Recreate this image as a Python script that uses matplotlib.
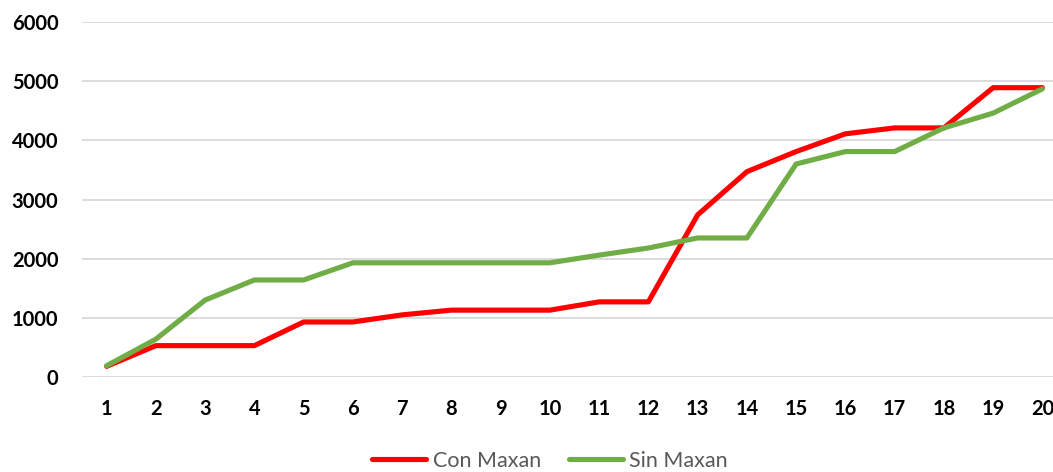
import matplotlib
matplotlib.use('Agg')
import matplotlib.pyplot as plt

# data
x = list(range(1, 21))
con_maxan = [180, 530, 530, 530, 930, 930, 1050, 1130, 1130, 1130,
             1270, 1270, 2740, 3470, 3810, 4110, 4210, 4210, 4890, 4890]
sin_maxan = [190, 640, 1300, 1640, 1640, 1930, 1930, 1930, 1930, 1930,
             2060, 2180, 2350, 2350, 3600, 3810, 3810, 4210, 4460, 4870]
y_ticks = [0, 1000, 2000, 3000, 4000, 5000, 6000]

plt.rcParams['font.family'] = ['Lato', 'DejaVu Sans']

fig = plt.figure(figsize=(10.53, 4.72), dpi=100)
# axes runs past the right edge, like the cropped original
ax = fig.add_axes([82 / 1053, 1 - 377 / 472, 985 / 1053, 355 / 472])

ax.plot(x, con_maxan, color='#FF0000', lw=3.7, label='Con Maxan', solid_capstyle='round')
ax.plot(x, sin_maxan, color='#70AD47', lw=3.7, label='Sin Maxan', solid_capstyle='round')

ax.set_xlim(0.5, 20.5)
ax.set_ylim(0, 6000)
ax.set_xticks(x)
ax.set_yticks(y_ticks)
ax.grid(axis='y', color='#D9D9D9', lw=1.3)
ax.set_axisbelow(True)
for s in ax.spines.values():
    s.set_visible(False)
ax.tick_params(axis='both', length=0, labelsize=14.5, colors='black')
ax.tick_params(axis='x', pad=16)
ax.tick_params(axis='y', pad=17)
for lbl in ax.get_xticklabels() + ax.get_yticklabels():
    lbl.set_fontweight('bold')

fig.legend(loc='center', bbox_to_anchor=(550 / 1053, 1 - 461 / 472), ncol=2,
           frameon=False, fontsize=15.5, labelcolor='#595959',
           handlelength=2.5, handletextpad=0.3, columnspacing=1.3)

fig.savefig('out.png', dpi=100)
